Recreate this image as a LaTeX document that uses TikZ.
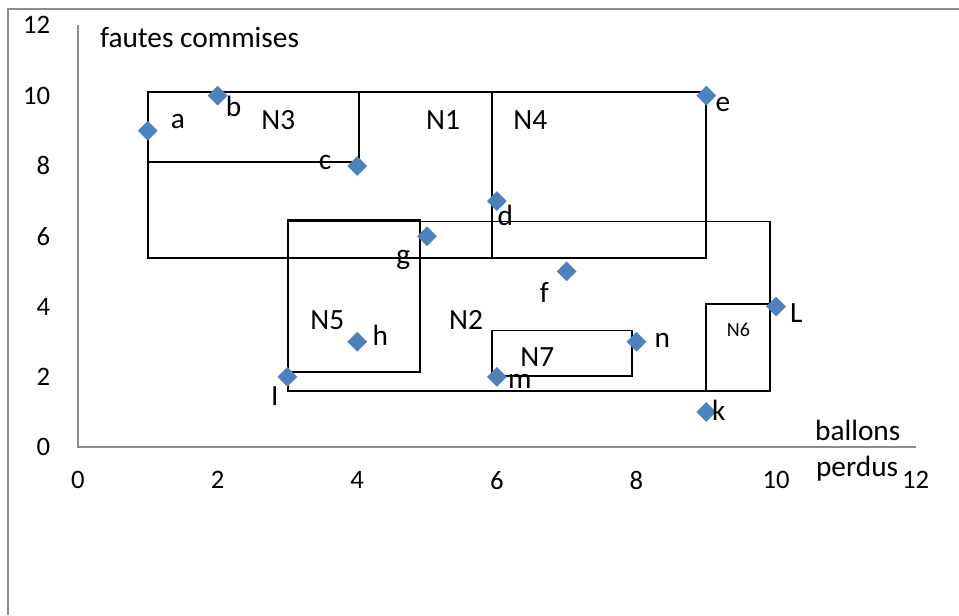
\documentclass[tikz,border=0pt]{standalone}
\usepackage{fontspec}
\setmainfont{Carlito}
\usetikzlibrary{shapes.geometric}
\definecolor{bleu}{HTML}{4F81BD}
\definecolor{gris}{HTML}{8C8C8C}
\tikzset{
	point/.style={diamond,fill=bleu,inner sep=0pt,minimum size=15pt},
	lettre/.style={font=\fontsize{22}{22}\selectfont},
	graduation/.style={font=\fontsize{20}{20}\selectfont},
	groupe/.style={draw=black,line width=1.4pt}
}
\begin{document}
\begin{tikzpicture}[x=52.35pt,y=26.36pt]
		\useasboundingbox (-1.117,-4.78) rectangle (12.62,12.72);
		
		%cadre
		\draw[gris,line width=1.4pt] (-1.003,-4.78) -- (-1.003,12.46) -- (12.62,12.46);
		
		%axes
		\draw[gris,line width=1.4pt] (0,12) -- (0,0) -- (12,0);
		\foreach \y in {0,2,...,12}
			\node[graduation,anchor=east] (gy\y) at (-0.33,\y) {\y};
		\foreach \x in {0,2,...,12}
			\node[graduation] (gx\x) at (\x,-0.94) {\x};
		\node[lettre,anchor=west] (titrey) at (0.25,11.64) {fautes commises};
		\node[lettre] (titrex1) at (11.17,0.48) {ballons};
		\node[lettre] (titrex2) at (11.16,-0.60) {perdus};
		
		%groupes
		\draw[groupe] (1,5.37) rectangle (9,10.11);
		\draw[groupe] (1,8.12) rectangle (4.03,10.11);
		\draw[groupe] (5.93,5.37) rectangle (9,10.11);
		\draw[groupe] (3.01,1.59) rectangle (9.91,6.42);
		\draw[groupe] (3.01,2.13) rectangle (4.9,6.47);
		\draw[groupe] (5.93,2.02) rectangle (7.94,3.32);
		\draw[groupe] (9,1.59) rectangle (9.91,4.06);
		
		%noms des groupes
		\node[lettre] (nN1) at (5.23,9.30) {N1};
		\node[lettre] (nN2) at (5.56,3.61) {N2};
		\node[lettre] (nN3) at (2.87,9.30) {N3};
		\node[lettre] (nN4) at (6.48,9.30) {N4};
		\node[lettre] (nN5) at (3.57,3.61) {N5};
		\node[font=\fontsize{15}{15}\selectfont] (nN6) at (9.46,3.33) {N6};
		\node[lettre] (nN7) at (6.58,2.55) {N7};
		
		%points
		\node[point] (a) at (1,9) {};
		\node[point] (b) at (2,10) {};
		\node[point] (c) at (4,8) {};
		\node[point] (d) at (6,7) {};
		\node[point] (e) at (9,10) {};
		\node[point] (f) at (7,5) {};
		\node[point] (g) at (5,6) {};
		\node[point] (h) at (4,3) {};
		\node[point] (I) at (3,2) {};
		\node[point] (m) at (6,2) {};
		\node[point] (n) at (8,3) {};
		\node[point] (k) at (9,1) {};
		\node[point] (L) at (10,4) {};
		
		%noms des points
		\node[lettre] (la) at (1.43,9.25) {a};
		\node[lettre] (lb) at (2.23,9.70) {b};
		\node[lettre] (lc) at (3.54,8.11) {c};
		\node[lettre] (ld) at (6.12,6.60) {d};
		\node[lettre] (le) at (9.24,9.76) {e};
		\node[lettre] (lf) at (6.68,4.41) {f};
		\node[lettre] (lg) at (4.66,5.32) {g};
		\node[lettre] (lh) at (4.33,3.19) {h};
		\node[lettre] (lI) at (2.82,1.45) {I};
		\node[lettre] (lm) at (6.33,1.88) {m};
		\node[lettre] (ln) at (8.37,3.04) {n};
		\node[lettre] (lk) at (9.18,1.05) {k};
		\node[lettre] (lL) at (10.29,3.81) {L};
	\end{tikzpicture}
\end{document}
